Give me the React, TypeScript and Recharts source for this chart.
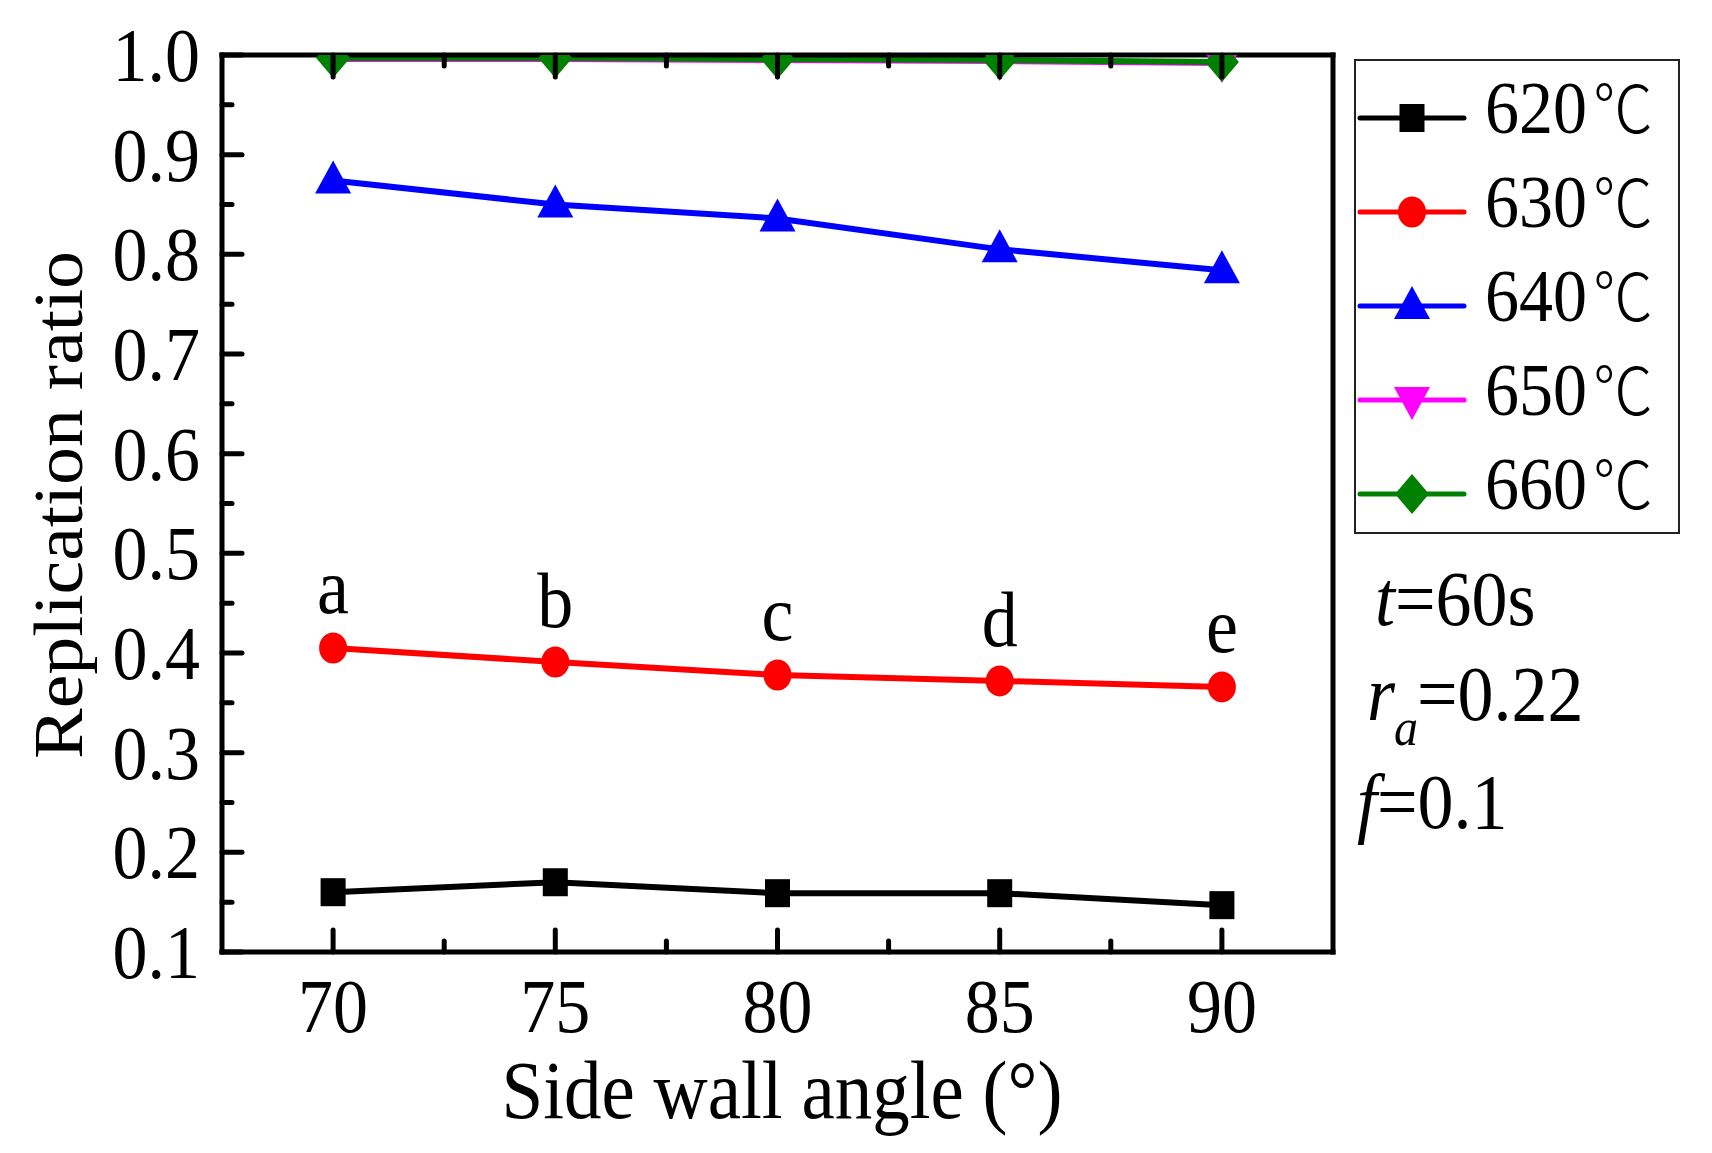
import React from 'react';
import { LineChart, Line, XAxis, YAxis, Legend, LabelList } from 'recharts';

// side wall angle (deg)
const angles = [70, 75, 80, 85, 90];
// replication ratio per forming temperature
const r620 = [0.160, 0.170, 0.159, 0.159, 0.147];
const r630 = [0.405, 0.391, 0.378, 0.372, 0.366];
const r640 = [0.874, 0.850, 0.836, 0.805, 0.784];
const r650 = [0.996, 0.996, 0.995, 0.994, 0.992];
const r660 = [0.997, 0.997, 0.996, 0.995, 0.993];
const pointTags = ['a', 'b', 'c', 'd', 'e'];

const xMajor = [70, 75, 80, 85, 90];
const xMinor = [72.5, 77.5, 82.5, 87.5];
const yMajor = [0.1, 0.2, 0.3, 0.4, 0.5, 0.6, 0.7, 0.8, 0.9, 1.0];
const yMinor = [0.15, 0.25, 0.35, 0.45, 0.55, 0.65, 0.75, 0.85, 0.95];

const temps = ['620', '630', '640', '650', '660'];
const UNIT = '℃';

const data = angles.map((a, i) => ({
  angle: a,
  t620: r620[i],
  t630: r630[i],
  t640: r640[i],
  t650: r650[i],
  t660: r660[i],
  tag: pointTags[i],
}));

const series = [
  { key: 't620', temp: temps[0], color: '#000000', shape: 'square' },
  { key: 't630', temp: temps[1], color: '#ff0000', shape: 'circle' },
  { key: 't640', temp: temps[2], color: '#0000ff', shape: 'up' },
  { key: 't650', temp: temps[3], color: '#ff00ff', shape: 'down' },
  { key: 't660', temp: temps[4], color: '#008000', shape: 'diamond' },
];

const SERIF = '"Liberation Serif", "Times New Roman", "DejaVu Serif", serif';
const CJK = '"Noto Sans CJK SC", "Liberation Serif", serif';
const xTicks = [...xMajor, ...xMinor].sort((a, b) => a - b);
const yTicks = [...yMajor, ...yMinor].sort((a, b) => a - b);
const isMajorY = (v: number) => yMajor.some((m) => Math.abs(m - v) < 1e-6);

// text stretched a little vertically, like the original figure
function SText({ x, y, size, anchor = 'middle', rotate = false, children }: any) {
  const tf = rotate
    ? `translate(${x} ${y}) rotate(-90) scale(1.1 1)`
    : `translate(${x} ${y}) scale(1 1.1)`;
  return (
    <text transform={tf} fontFamily={SERIF} fontSize={size} textAnchor={anchor} fill="#000">
      {children}
    </text>
  );
}

function Marker({ shape, cx, cy, color }: any) {
  if (cx == null || cy == null) return null;
  switch (shape) {
    case 'square':
      return <rect x={cx - 12.5} y={cy - 14} width={25} height={28} fill={color} />;
    case 'circle':
      return <ellipse cx={cx} cy={cy} rx={14} ry={15.5} fill={color} />;
    case 'up':
      return <polygon points={`${cx},${cy - 20} ${cx - 18},${cy + 13} ${cx + 18},${cy + 13}`} fill={color} />;
    case 'down':
      return <polygon points={`${cx},${cy + 20} ${cx - 18},${cy - 13} ${cx + 18},${cy - 13}`} fill={color} />;
    default:
      return <polygon points={`${cx},${cy - 20} ${cx + 17},${cy} ${cx},${cy + 20} ${cx - 17},${cy}`} fill={color} />;
  }
}

const TICK = { stroke: '#000', strokeWidth: 5, strokeLinecap: 'round' as const };

const BottomTick = ({ x, y, payload }: any) => {
  const major = xMajor.includes(payload.value);
  return (
    <g>
      <line x1={x} x2={x} y1={y} y2={y - (major ? 22 : 11)} {...TICK} />
      {major && <SText x={x} y={y + 80} size={70}>{payload.value}</SText>}
    </g>
  );
};

const TopTick = ({ x, y, payload }: any) => {
  const major = xMajor.includes(payload.value);
  return <line x1={x} x2={x} y1={y} y2={y + (major ? 22 : 11)} {...TICK} />;
};

const LeftTick = ({ x, y, payload }: any) => {
  const major = isMajorY(payload.value);
  return (
    <g>
      <line x1={x} x2={x + (major ? 20 : 10)} y1={y} y2={y} {...TICK} />
      {major && (
        <SText x={x - 22} y={y + 26} size={70} anchor="end">
          {Number(payload.value).toFixed(1)}
        </SText>
      )}
    </g>
  );
};

const RightTick = ({ x, y, payload }: any) => {
  const major = isMajorY(payload.value);
  return <line x1={x} x2={x - (major ? 20 : 10)} y1={y} y2={y} {...TICK} />;
};

const TagLabel = ({ x, y, value }: any) => (
  <SText x={x} y={y - 35} size={72}>{value}</SText>
);

const renderLegend = () => (
  <svg width={326} height={475} style={{ overflow: 'visible', display: 'block' }}>
    <rect x={1} y={1} width={324} height={473} fill="#fff" stroke="#222" strokeWidth={2} />
    {series.map((s, i) => {
      const cy = 59 + i * 94;
      return (
        <g key={s.key}>
          <line x1={6} x2={110} y1={cy} y2={cy} stroke={s.color} strokeWidth={5} strokeLinecap="round" />
          <Marker shape={s.shape} cx={58} cy={cy} color={s.color} />
          <SText x={131} y={cy + 15} size={68} anchor="start">
            {s.temp}
            <tspan fontFamily={CJK} fontSize={60} fontWeight={300} dx={6}>{UNIT}</tspan>
          </SText>
        </g>
      );
    })}
  </svg>
);

const AXIS_LINE = { stroke: '#000', strokeWidth: 5, strokeLinecap: 'square' as const };

export default function App() {
  return (
    <div style={{ position: 'relative', width: 1700, height: 1140 }}>
      <LineChart
        width={1700}
        height={1140}
        data={data}
        margin={{ top: 46, right: 374, bottom: 96, left: 114 }}
      >
        {series.map((s) => (
          <Line
            key={s.key}
            xAxisId="bottom"
            yAxisId="left"
            type="linear"
            dataKey={s.key}
            name={s.temp + UNIT}
            stroke={s.color}
            strokeWidth={6}
            isAnimationActive={false}
            dot={(p: any) => (
              <Marker key={`${s.key}-${p.index}`} shape={s.shape} cx={p.cx} cy={p.cy} color={s.color} />
            )}
            activeDot={false}
          >
            {s.key === 't630' && <LabelList dataKey="tag" content={TagLabel} />}
          </Line>
        ))}
        <XAxis
          xAxisId="bottom"
          dataKey="angle"
          type="number"
          domain={[67.5, 92.5]}
          ticks={xTicks}
          interval={0}
          height={100}
          tickSize={0}
          tickMargin={0}
          tickLine={false}
          axisLine={AXIS_LINE}
          tick={BottomTick}
        />
        <XAxis
          xAxisId="top"
          orientation="top"
          dataKey="angle"
          type="number"
          domain={[67.5, 92.5]}
          ticks={xTicks}
          interval={0}
          height={1}
          tickSize={0}
          tickMargin={0}
          tickLine={false}
          axisLine={AXIS_LINE}
          tick={TopTick}
        />
        <YAxis
          yAxisId="left"
          type="number"
          domain={[0.1, 1.0]}
          allowDataOverflow
          ticks={yTicks}
          interval={0}
          width={100}
          tickSize={0}
          tickMargin={0}
          tickLine={false}
          axisLine={AXIS_LINE}
          tick={LeftTick}
        />
        <YAxis
          yAxisId="right"
          orientation="right"
          type="number"
          domain={[0.1, 1.0]}
          ticks={yTicks}
          interval={0}
          width={1}
          tickSize={0}
          tickMargin={0}
          tickLine={false}
          axisLine={AXIS_LINE}
          tick={RightTick}
        />
        <Legend
          layout="vertical"
          align="center"
          verticalAlign="middle"
          content={renderLegend}
          wrapperStyle={{ left: 1346, top: 51, width: 326, height: 475 }}
        />
      </LineChart>
      <svg
        width={1700}
        height={1140}
        style={{ position: 'absolute', left: 0, top: 0, pointerEvents: 'none' }}
      >
        <SText x={74} y={497} size={69} rotate>Replication ratio</SText>
        <SText x={774} y={1110} size={75}>Side wall angle (°)</SText>
        <SText x={1367} y={617} size={72} anchor="start">
          <tspan fontStyle="italic">t</tspan>=60s
        </SText>
        <SText x={1359} y={712} size={72} anchor="start">
          <tspan fontStyle="italic">r</tspan>
        </SText>
        <SText x={1386} y={737} size={48} anchor="start">
          <tspan fontStyle="italic">a</tspan>
        </SText>
        <SText x={1409} y={712} size={72} anchor="start">=0.22</SText>
        <SText x={1349} y={820} size={72} anchor="start">
          <tspan fontStyle="italic">f</tspan>=0.1
        </SText>
      </svg>
    </div>
  );
}
